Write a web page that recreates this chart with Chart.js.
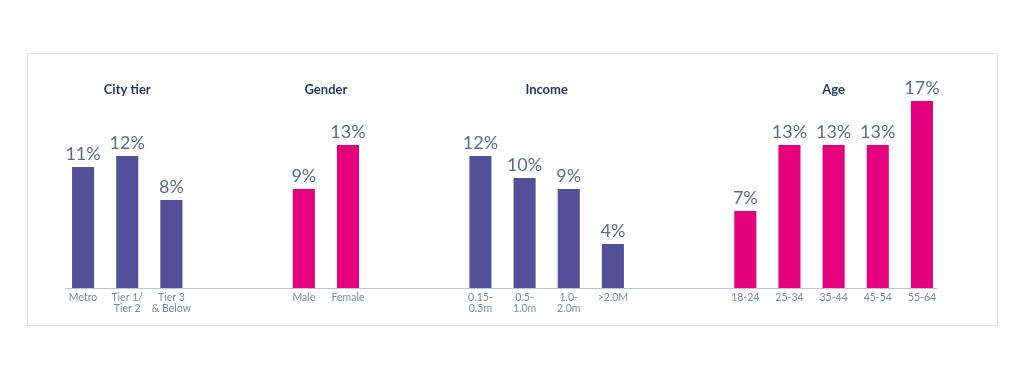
<!DOCTYPE html>
<html>
<head>
<meta charset="utf-8">
<script src="https://cdn.jsdelivr.net/npm/chart.js@4/dist/chart.umd.min.js"></script>
<style>
  html, body { margin: 0; padding: 0; background: #fff; }
  #wrap { width: 1024px; height: 379px; position: relative; }
</style>
</head>
<body>
<div id="wrap"><canvas id="profileChart" width="1024" height="379"></canvas></div>
<script>
// data per group
var groupTitles = ["City tier", "Gender", "Income", "Age"];

var cityTiers = ["Metro", ["Tier 1/", "Tier 2"], ["Tier 3", "& Below"]];
var cityTierValues = [11, 12, 8];

var genders = ["Male", "Female"];
var genderValues = [9, 13];

var incomeBands = [["0.15-", "0.5m"], ["0.5-", "1.0m"], ["1.0-", "2.0m"], ">2.0M"];
var incomeValues = [12, 10, 9, 4];

var ageBands = ["18-24", "25-34", "35-44", "45-54", "55-64"];
var ageValues = [7, 13, 13, 13, 17];

var purple = "#534f98";
var pink = "#e5007d";

var groups = [
  { labels: cityTiers, values: cityTierValues, color: purple },
  { labels: genders, values: genderValues, color: pink },
  { labels: incomeBands, values: incomeValues, color: purple },
  { labels: ageBands, values: ageValues, color: pink }
];

// flatten into one category axis, two empty slots between groups
var labels = [], values = [], colors = [], groupCenters = [];
groups.forEach(function (g, gi) {
  if (gi > 0) {
    for (var k = 0; k < 2; k++) { labels.push(""); values.push(null); colors.push("rgba(0,0,0,0)"); }
  }
  var start = labels.length;
  g.labels.forEach(function (l, i) {
    labels.push(l);
    values.push(g.values[i]);
    colors.push(g.color);
  });
  groupCenters.push((start + labels.length - 1) / 2);
});

var decorPlugin = {
  id: "decor",
  beforeDraw: function (chart) {
    var c = chart.ctx;
    c.save();
    c.fillStyle = "#fff";
    c.fillRect(0, 0, chart.width, chart.height);
    c.strokeStyle = "#e2e2e2";
    c.lineWidth = 1;
    c.strokeRect(27.5, 53.5, 970, 272);
    c.restore();
  },
  afterDatasetsDraw: function (chart) {
    var c = chart.ctx;
    var xs = chart.scales.x;
    var area = chart.chartArea;
    c.save();
    // base line, a bit inset from the outer slots
    c.strokeStyle = "#b9c3d1";
    c.lineWidth = 1;
    c.beginPath();
    c.moveTo(area.left + 4, Math.round(area.bottom) + 0.5);
    c.lineTo(area.right - 7, Math.round(area.bottom) + 0.5);
    c.stroke();
    // group titles
    c.fillStyle = "#1e3a5c";
    c.font = "bold 13px Lato";
    c.textAlign = "center";
    c.textBaseline = "middle";
    groupCenters.forEach(function (v, i) {
      c.fillText(groupTitles[i], xs.getPixelForValue(v), 90);
    });
    // value labels
    c.fillStyle = "#5e6e84";
    c.font = "18px Lato";
    c.textBaseline = "alphabetic";
    var meta = chart.getDatasetMeta(0);
    meta.data.forEach(function (bar, i) {
      var v = values[i];
      if (v === null) return;
      c.fillText(v + "%", bar.x, bar.y - 7);
    });
    c.restore();
  }
};

var ctx = document.getElementById("profileChart");
var profileChart = new Chart(ctx, {
  type: "bar",
  data: {
    labels: labels,
    datasets: [
      {
        data: values,
        backgroundColor: colors,
        borderWidth: 0,
        categoryPercentage: 1,
        barPercentage: 0.5
      }
    ]
  },
  options: {
    responsive: false,
    animation: false,
    layout: { padding: { left: 61, right: 80, top: 68, bottom: 0 } },
    plugins: { legend: { display: false }, tooltip: { enabled: false } },
    scales: {
      x: {
        grid: { display: false, drawTicks: false },
        border: { display: false },
        ticks: {
          autoSkip: false,
          maxRotation: 0,
          padding: 4,
          color: "#7d8a9b",
          font: { family: "Lato", size: 10.5, lineHeight: 1.05 }
        },
        afterFit: function (scale) { scale.height = 91; }
      },
      y: {
        display: false,
        min: 0,
        max: 20
      }
    }
  },
  plugins: [decorPlugin]
});
</script>
</body>
</html>
